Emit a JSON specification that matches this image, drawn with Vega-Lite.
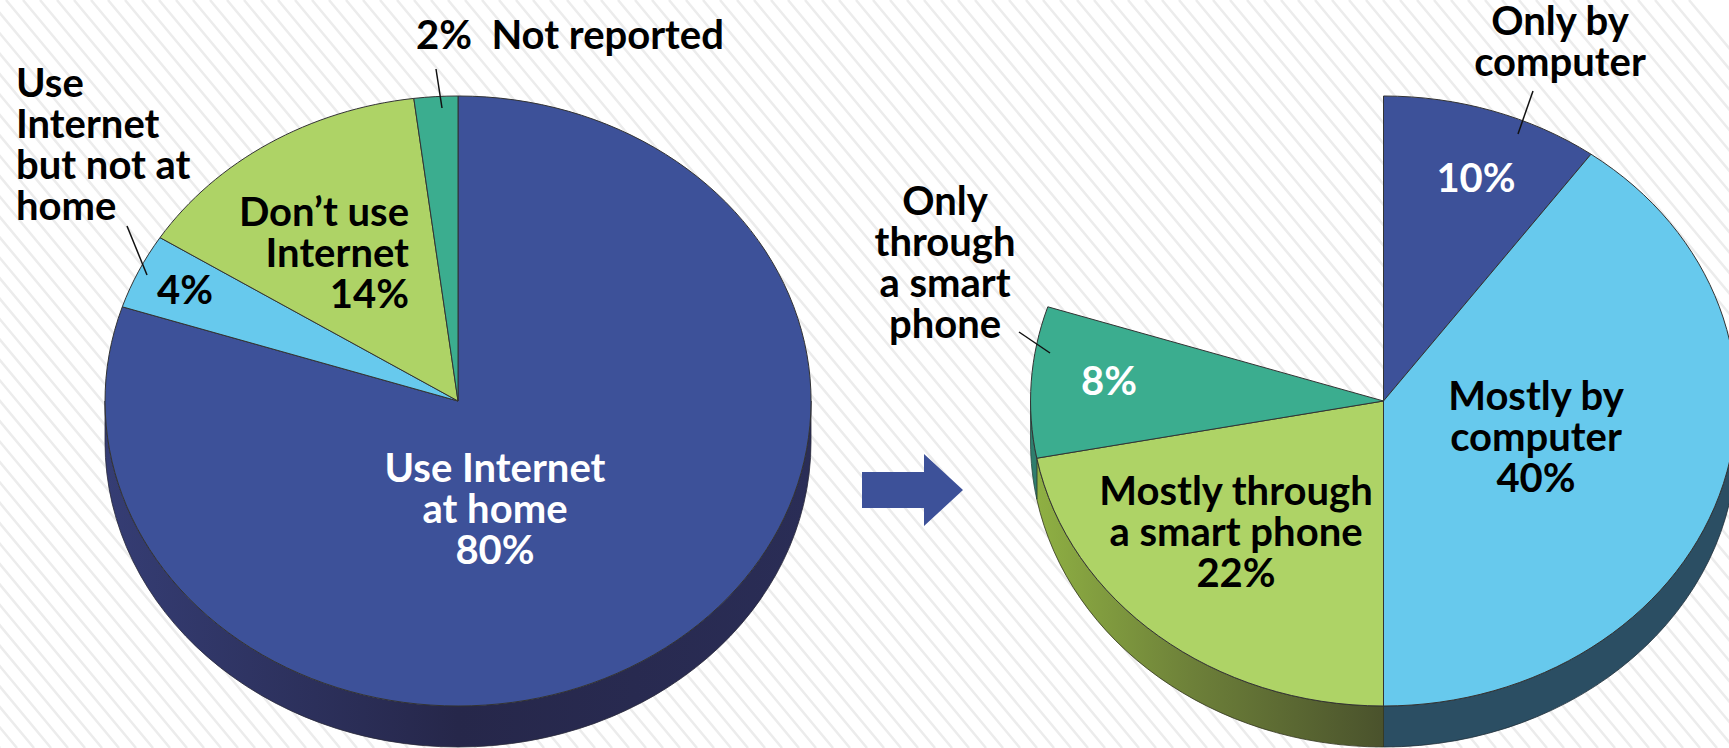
{"$schema":"https://vega.github.io/schema/vega-lite/v6.json","width":1729,"height":748,"padding":0,"autosize":{"type":"none"},"background":"#ffffff","config":{"view":{"stroke":null},"axis":{"disable":true},"text":{"font":"Lato","fontWeight":"bold","fontSize":40,"lineHeight":41,"lineBreak":"\n"}},
"data":{"values":[
{"pie":"Internet use","slice":"Use Internet at home","share":80,"label":"Use Internet\nat home\n80%"},
{"pie":"Internet use","slice":"Use Internet but not at home","share":4,"label":"Use\nInternet\nbut not at\nhome"},
{"pie":"Internet use","slice":"Don't use Internet","share":14,"label":"Don’t use\nInternet\n14%"},
{"pie":"Internet use","slice":"Not reported","share":2,"label":"2%\u00a0 Not reported"},
{"pie":"Device","slice":"Only by computer","share":10,"label":"Only by\ncomputer"},
{"pie":"Device","slice":"Mostly by computer","share":40,"label":"Mostly by\ncomputer\n40%"},
{"pie":"Device","slice":"Mostly through a smart phone","share":22,"label":"Mostly through\na smart phone\n22%"},
{"pie":"Device","slice":"Only through a smart phone","share":8,"label":"Only\nthrough\na smart\nphone"}
]},
"layer":[
{"data":{"values":[{"part":"background hatch"}]},"mark":{"type":"point","filled":false,"opacity":1,"size":4,"stroke":"#ececec","strokeWidth":2.5,"shape":"M-623 0l623 748m-606 -748l623 748m-606 -748l623 748m-606 -748l623 748m-606 -748l623 748m-606 -748l623 748m-606 -748l623 748m-606 -748l623 748m-606 -748l623 748m-606 -748l623 748m-606 -748l623 748m-606 -748l623 748m-606 -748l623 748m-606 -748l623 748m-606 -748l623 748m-606 -748l623 748m-606 -748l623 748m-606 -748l623 748m-606 -748l623 748m-606 -748l623 748m-606 -748l623 748m-606 -748l623 748m-606 -748l623 748m-606 -748l623 748m-606 -748l623 748m-606 -748l623 748m-606 -748l623 748m-606 -748l623 748m-606 -748l623 748m-606 -748l623 748m-606 -748l623 748m-606 -748l623 748m-606 -748l623 748m-606 -748l623 748m-606 -748l623 748m-606 -748l623 748m-606 -748l623 748m-606 -748l623 748m-606 -748l623 748m-606 -748l623 748m-606 -748l623 748m-606 -748l623 748m-606 -748l623 748m-606 -748l623 748m-606 -748l623 748m-606 -748l623 748m-606 -748l623 748m-606 -748l623 748m-606 -748l623 748m-606 -748l623 748m-606 -748l623 748m-606 -748l623 748m-606 -748l623 748m-606 -748l623 748m-606 -748l623 748m-606 -748l623 748m-606 -748l623 748m-606 -748l623 748m-606 -748l623 748m-606 -748l623 748m-606 -748l623 748m-606 -748l623 748m-606 -748l623 748m-606 -748l623 748m-606 -748l623 748m-606 -748l623 748m-606 -748l623 748m-606 -748l623 748m-606 -748l623 748m-606 -748l623 748m-606 -748l623 748m-606 -748l623 748m-606 -748l623 748m-606 -748l623 748m-606 -748l623 748m-606 -748l623 748m-606 -748l623 748m-606 -748l623 748m-606 -748l623 748m-606 -748l623 748m-606 -748l623 748m-606 -748l623 748m-606 -748l623 748m-606 -748l623 748m-606 -748l623 748m-606 -748l623 748m-606 -748l623 748m-606 -748l623 748m-606 -748l623 748m-606 -748l623 748m-606 -748l623 748m-606 -748l623 748m-606 -748l623 748m-606 -748l623 748m-606 -748l623 748m-606 -748l623 748m-606 -748l623 748m-606 -748l623 748m-606 -748l623 748m-606 -748l623 748m-606 -748l623 748m-606 -748l623 748m-606 -748l623 748m-606 -748l623 748m-606 -748l623 748m-606 -748l623 748m-606 -748l623 748m-606 -748l623 748m-606 -748l623 748m-606 -748l623 748m-606 -748l623 748m-606 -748l623 748m-606 -748l623 748m-606 -748l623 748m-606 -748l623 748m-606 -748l623 748m-606 -748l623 748m-606 -748l623 748m-606 -748l623 748m-606 -748l623 748m-606 -748l623 748m-606 -748l623 748m-606 -748l623 748m-606 -748l623 748m-606 -748l623 748m-606 -748l623 748m-606 -748l623 748m-606 -748l623 748m-606 -748l623 748m-606 -748l623 748m-606 -748l623 748m-606 -748l623 748m-606 -748l623 748m-606 -748l623 748m-606 -748l623 748m-606 -748l623 748m-606 -748l623 748"},"encoding":{"x":{"datum":0,"type":"quantitative","scale":{"domain":[0,1729],"nice":false}},"y":{"datum":0,"type":"quantitative","scale":{"domain":[0,748],"reverse":true,"nice":false}}}},
{"transform":[{"filter":"datum.slice==='Use Internet at home'"}],"mark":{"type":"point","filled":true,"opacity":1,"size":4,"stroke":"#2a2a3a","strokeWidth":0.8,"fill":{"gradient":"linear","x1":0,"y1":0,"x2":1,"y2":0,"stops":[{"offset":0,"color":"#353d74"},{"offset":0.5,"color":"#26274a"},{"offset":1,"color":"#2a2d56"}]},"shape":"M-353 0A353 305 0 0 0 353 0L353 41A353 305 0 0 1 -353 41Z"},"encoding":{"x":{"datum":458,"type":"quantitative"},"y":{"datum":401,"type":"quantitative"}}},
{"transform":[{"filter":"datum.slice==='Mostly by computer'"}],"mark":{"type":"point","filled":true,"opacity":1,"size":4,"stroke":"#22303a","strokeWidth":0.8,"fill":"#2b4e63","shape":"M353 0A353 305 0 0 1 0 305L0 346A353 305 0 0 0 353 41Z"},"encoding":{"x":{"datum":1383.5,"type":"quantitative"},"y":{"datum":401,"type":"quantitative"}}},
{"transform":[{"filter":"datum.slice==='Mostly through a smart phone'"}],"mark":{"type":"point","filled":true,"opacity":1,"size":4,"stroke":"#33361f","strokeWidth":0.8,"fill":{"gradient":"linear","x1":0,"y1":0,"x2":1,"y2":0,"stops":[{"offset":0,"color":"#8fb043"},{"offset":0.45,"color":"#6d8039"},{"offset":1,"color":"#4a522c"}]},"shape":"M0 305A353 305 0 0 1 -346.7 57.2L-346.7 98.2A353 305 0 0 0 0 346Z"},"encoding":{"x":{"datum":1383.5,"type":"quantitative"},"y":{"datum":401,"type":"quantitative"}}},
{"transform":[{"filter":"datum.slice==='Only through a smart phone'"}],"mark":{"type":"point","filled":true,"opacity":1,"size":4,"stroke":"#24453c","strokeWidth":0.8,"fill":"#2f7d6d","shape":"M-346.7 57.2A353 305 0 0 1 -353 0L-353 41A353 305 0 0 0 -346.7 98.2Z"},"encoding":{"x":{"datum":1383.5,"type":"quantitative"},"y":{"datum":401,"type":"quantitative"}}},
{"transform":[{"filter":"datum.pie==='Internet use'"}],"mark":{"type":"point","filled":true,"opacity":1,"size":4,"stroke":"#333333","strokeWidth":1},"encoding":{"x":{"datum":458,"type":"quantitative"},"y":{"datum":401,"type":"quantitative"},"shape":{"field":"slice","type":"nominal","legend":null,"scale":{"domain":["Use Internet at home","Use Internet but not at home","Don't use Internet","Not reported","Only by computer","Mostly by computer","Mostly through a smart phone","Only through a smart phone"],"range":["M0 0L0 -305A353 305 0 1 1 -335.7 -94.2Z","M0 0L-335.7 -94.2A353 305 0 0 1 -298 -163.4Z","M0 0L-298 -163.4A353 305 0 0 1 -44.2 -302.6Z","M0 0L-44.2 -302.6A353 305 0 0 1 0 -305Z","M0 0L0 -305A353 305 0 0 1 207.5 -246.8Z","M0 0L207.5 -246.8A353 305 0 0 1 0 305Z","M0 0L0 305A353 305 0 0 1 -346.7 57.2Z","M0 0L-346.7 57.2A353 305 0 0 1 -335.7 -94.2Z"]}},"fill":{"field":"slice","type":"nominal","legend":null,"scale":{"domain":["Use Internet at home","Use Internet but not at home","Don't use Internet","Not reported","Only by computer","Mostly by computer","Mostly through a smart phone","Only through a smart phone"],"range":["#3d5199","#67c9ed","#aed366","#3bad8f","#3d5199","#67c9ed","#aed366","#3bad8f"]}}}},
{"transform":[{"filter":"datum.pie==='Device'"}],"mark":{"type":"point","filled":true,"opacity":1,"size":4,"stroke":"#333333","strokeWidth":1},"encoding":{"x":{"datum":1383.5,"type":"quantitative"},"y":{"datum":401,"type":"quantitative"},"shape":{"field":"slice","type":"nominal","legend":null},"fill":{"field":"slice","type":"nominal","legend":null}}},
{"transform":[{"filter":"datum.slice==='Not reported'"}],"mark":{"type":"rule","stroke":"#111111","strokeWidth":1.5},"encoding":{"x":{"datum":436,"type":"quantitative"},"x2":{"datum":442},"y":{"datum":69,"type":"quantitative"},"y2":{"datum":108}}},
{"transform":[{"filter":"datum.slice==='Use Internet but not at home'"}],"mark":{"type":"rule","stroke":"#111111","strokeWidth":1.5},"encoding":{"x":{"datum":127,"type":"quantitative"},"x2":{"datum":147},"y":{"datum":226,"type":"quantitative"},"y2":{"datum":275}}},
{"transform":[{"filter":"datum.slice==='Only by computer'"}],"mark":{"type":"rule","stroke":"#111111","strokeWidth":1.5},"encoding":{"x":{"datum":1533,"type":"quantitative"},"x2":{"datum":1518},"y":{"datum":91,"type":"quantitative"},"y2":{"datum":134}}},
{"transform":[{"filter":"datum.slice==='Only through a smart phone'"}],"mark":{"type":"rule","stroke":"#111111","strokeWidth":1.5},"encoding":{"x":{"datum":1019,"type":"quantitative"},"x2":{"datum":1050},"y":{"datum":332,"type":"quantitative"},"y2":{"datum":353}}},
{"data":{"values":[{"part":"arrow"}]},"mark":{"type":"point","filled":true,"opacity":1,"size":4,"fill":"#3d5199","strokeWidth":0,"shape":"M-48 -18L14 -18L14 -36L53 0L14 36L14 18L-48 18Z"},"encoding":{"x":{"datum":910,"type":"quantitative"},"y":{"datum":490,"type":"quantitative"}}},
{"transform":[{"filter":"datum.slice==='Use Internet at home'"}],"mark":{"type":"text","align":"center","baseline":"alphabetic","fill":"#ffffff"},"encoding":{"x":{"datum":495,"type":"quantitative"},"y":{"datum":482,"type":"quantitative"},"text":{"field":"label"}}},
{"transform":[{"filter":"datum.slice==='Use Internet but not at home'"}],"mark":{"type":"text","align":"left","baseline":"alphabetic","fill":"#000000"},"encoding":{"x":{"datum":16,"type":"quantitative"},"y":{"datum":97,"type":"quantitative"},"text":{"field":"label"}}},
{"transform":[{"filter":"datum.slice==='Use Internet but not at home'"}],"mark":{"type":"text","align":"center","baseline":"alphabetic","fill":"#000000"},"encoding":{"x":{"datum":185,"type":"quantitative"},"y":{"datum":304,"type":"quantitative"},"text":{"value":"4%"}}},
{"transform":[{"filter":"datum.slice==='Don\\'t use Internet'"}],"mark":{"type":"text","align":"right","baseline":"alphabetic","fill":"#000000"},"encoding":{"x":{"datum":409,"type":"quantitative"},"y":{"datum":226,"type":"quantitative"},"text":{"field":"label"}}},
{"transform":[{"filter":"datum.slice==='Not reported'"}],"mark":{"type":"text","align":"left","baseline":"alphabetic","fill":"#000000"},"encoding":{"x":{"datum":416,"type":"quantitative"},"y":{"datum":49,"type":"quantitative"},"text":{"field":"label"}}},
{"transform":[{"filter":"datum.slice==='Only by computer'"}],"mark":{"type":"text","align":"center","baseline":"alphabetic","fill":"#000000"},"encoding":{"x":{"datum":1560,"type":"quantitative"},"y":{"datum":35,"type":"quantitative"},"text":{"field":"label"}}},
{"transform":[{"filter":"datum.slice==='Only by computer'"}],"mark":{"type":"text","align":"center","baseline":"alphabetic","fill":"#ffffff"},"encoding":{"x":{"datum":1476,"type":"quantitative"},"y":{"datum":192,"type":"quantitative"},"text":{"value":"10%"}}},
{"transform":[{"filter":"datum.slice==='Mostly by computer'"}],"mark":{"type":"text","align":"center","baseline":"alphabetic","fill":"#000000"},"encoding":{"x":{"datum":1536,"type":"quantitative"},"y":{"datum":410,"type":"quantitative"},"text":{"field":"label"}}},
{"transform":[{"filter":"datum.slice==='Mostly through a smart phone'"}],"mark":{"type":"text","align":"center","baseline":"alphabetic","fill":"#000000"},"encoding":{"x":{"datum":1236,"type":"quantitative"},"y":{"datum":505,"type":"quantitative"},"text":{"field":"label"}}},
{"transform":[{"filter":"datum.slice==='Only through a smart phone'"}],"mark":{"type":"text","align":"center","baseline":"alphabetic","fill":"#000000"},"encoding":{"x":{"datum":945,"type":"quantitative"},"y":{"datum":215,"type":"quantitative"},"text":{"field":"label"}}},
{"transform":[{"filter":"datum.slice==='Only through a smart phone'"}],"mark":{"type":"text","align":"center","baseline":"alphabetic","fill":"#ffffff"},"encoding":{"x":{"datum":1109,"type":"quantitative"},"y":{"datum":395,"type":"quantitative"},"text":{"value":"8%"}}}
]}
